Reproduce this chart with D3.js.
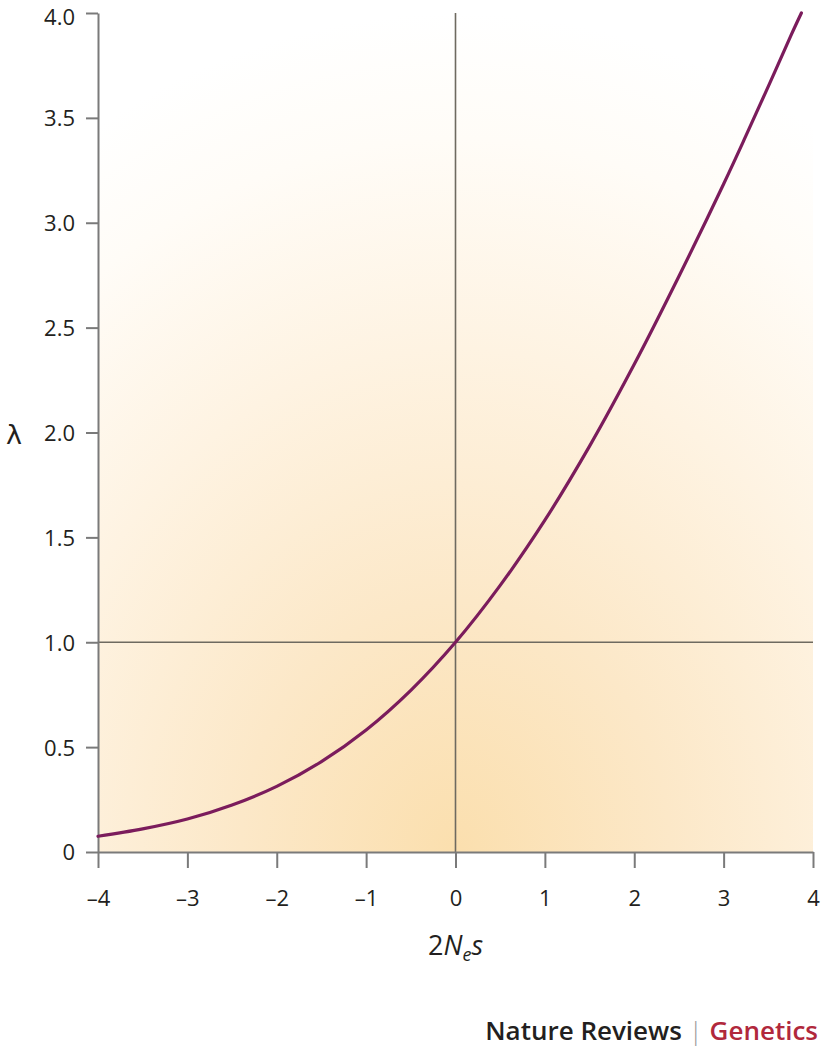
<!DOCTYPE html>
<html>
<head>
<meta charset="utf-8">
<script src="https://cdn.jsdelivr.net/npm/d3@7"></script>
<style>
  html, body { margin: 0; padding: 0; background: #fff; }
  svg { display: block; }
</style>
</head>
<body>
<svg id="chart"></svg>
<script>
// values
var selection = [-4, -3.5, -3, -2.5, -2, -1.5, -1, -0.5, 0, 0.5, 1, 1.5, 2, 2.5, 3, 3.25, 3.5, 3.75, 3.87];
var lambda    = [0.075, 0.11, 0.157, 0.224, 0.313, 0.431, 0.582, 0.771, 1.0, 1.271, 1.582, 1.935, 2.325, 2.745, 3.185, 3.415, 3.65, 3.89, 4.0];
var xTicks = [-4, -3, -2, -1, 0, 1, 2, 3, 4];
var yTicks = [0, 0.5, 1, 1.5, 2, 2.5, 3, 3.5, 4];

var W = 825, H = 1053;
var margin = {top: 13, right: 12, bottom: 201, left: 98},
    w = W - margin.left - margin.right,
    h = H - margin.top - margin.bottom;

var svg = d3.select("#chart").attr("width", W).attr("height", H);

var defs = svg.append("defs");
var grad = defs.append("radialGradient")
    .attr("id", "glow")
    .attr("gradientUnits", "objectBoundingBox")
    .attr("cx", 0.5).attr("cy", 1).attr("fx", 0.5).attr("fy", 1).attr("r", 1.0);
grad.append("stop").attr("offset", 0).attr("stop-color", "#fbdfae");
grad.append("stop").attr("offset", 0.3).attr("stop-color", "#fce8c8");
grad.append("stop").attr("offset", 0.6).attr("stop-color", "#fef3e2");
grad.append("stop").attr("offset", 0.85).attr("stop-color", "#fffcf7");
grad.append("stop").attr("offset", 1).attr("stop-color", "#ffffff");

var g = svg.append("g").attr("transform", `translate(${margin.left}, ${margin.top})`);

var x = d3.scaleLinear().domain([-4, 4]).range([0, w]);
var y = d3.scaleLinear().domain([0, 4]).range([h, 0]);

g.append("rect")
    .attr("x", 0).attr("y", 0)
    .attr("width", w).attr("height", h)
    .attr("fill", "url(#glow)");

// reference lines at 2Nes = 0 and lambda = 1
g.append("line")
    .attr("x1", x(0)).attr("x2", x(0))
    .attr("y1", y(4)).attr("y2", y(0))
    .attr("stroke", "#6e6a60").attr("stroke-width", 1.6);
g.append("line")
    .attr("x1", x(-4)).attr("x2", x(4))
    .attr("y1", y(1)).attr("y2", y(1))
    .attr("stroke", "#6e6a60").attr("stroke-width", 1.6);

// axes
var xAxis = g.append("g")
    .attr("transform", `translate(0, ${h})`)
    .call(d3.axisBottom(x).tickValues(xTicks).tickSize(16).tickPadding(22).tickSizeOuter(0)
      .tickFormat(d => d < 0 ? "\u2013" + Math.abs(d) : d));
var yAxis = g.append("g")
    .call(d3.axisLeft(y).tickValues(yTicks).tickSize(12).tickPadding(11).tickSizeOuter(0)
      .tickFormat(d => d === 0 ? "0" : d3.format(".1f")(d)));

[xAxis, yAxis].forEach(function (a) {
  a.select(".domain").attr("stroke", "#7a7a7a").attr("stroke-width", 2);
  a.selectAll(".tick line").attr("stroke", "#7a7a7a").attr("stroke-width", 2);
  a.selectAll(".tick text")
      .attr("fill", "#231f20")
      .style("font-family", "'Open Sans', sans-serif")
      .style("font-size", "22px");
});
yAxis.selectAll(".tick text").attr("dy", d => d === 4 ? "0.52em" : "0.36em");

// curve
var line = d3.line()
    .x((d, i) => x(selection[i]))
    .y(d => y(d))
    .curve(d3.curveCatmullRom);

g.append("path")
    .datum(lambda)
    .attr("d", line)
    .attr("fill", "none")
    .attr("stroke", "#7b1c5c")
    .attr("stroke-width", 3.2)
    .attr("stroke-linecap", "round");

// axis titles
svg.append("text")
    .attr("x", 14).attr("y", 444)
    .attr("text-anchor", "middle")
    .attr("fill", "#231f20")
    .style("font-family", "'DejaVu Sans', sans-serif")
    .style("font-size", "27px")
    .text("\u03bb");

var xt = svg.append("text")
    .attr("x", margin.left + x(0)).attr("y", 955)
    .attr("text-anchor", "middle")
    .attr("fill", "#231f20")
    .style("font-family", "'Open Sans', sans-serif")
    .style("font-size", "27px");
xt.append("tspan").text("2");
xt.append("tspan").style("font-style", "italic").text("N");
xt.append("tspan").style("font-style", "italic").style("font-size", "18px").attr("dy", 6).text("e");
xt.append("tspan").style("font-style", "italic").attr("dy", -6).text("s");

// journal credit
var credit = svg.append("text")
    .attr("x", 818).attr("y", 1040)
    .attr("text-anchor", "end")
    .style("font-family", "'Open Sans', sans-serif")
    .style("font-size", "26px")
    .style("font-weight", 600);
credit.append("tspan").attr("fill", "#231f20").text("Nature Reviews ");
credit.append("tspan").attr("fill", "#9a9a9a").style("font-weight", 300).text("|");
credit.append("tspan").attr("fill", "#b1283c").text(" Genetics");
</script>
</body>
</html>
